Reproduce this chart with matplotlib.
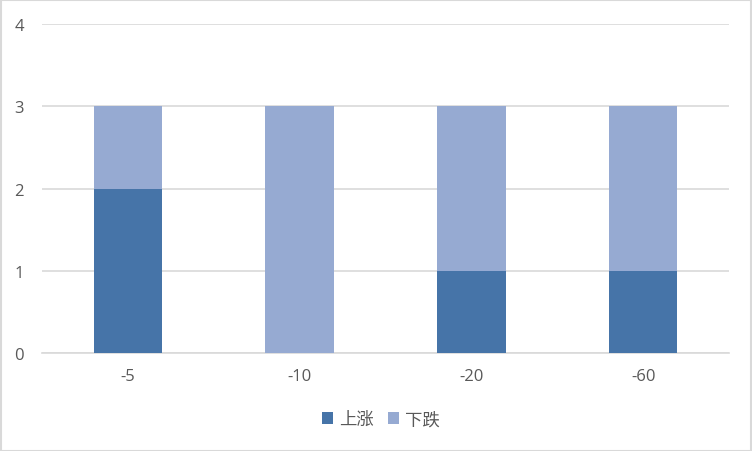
import matplotlib
matplotlib.use('Agg')
import matplotlib.pyplot as plt
import matplotlib.patches as patches
import numpy as np

plt.rcParams['font.family'] = ['Open Sans', 'Noto Sans CJK SC', 'DejaVu Sans']

categories = ['-5', '-10', '-20', '-60']
rise = [2, 0, 1, 1]
fall = [1, 3, 2, 2]
series_names = ['上涨', '下跌']

W, H = 752, 452
fig = plt.figure(figsize=(W / 100, H / 100), dpi=100)
ax = fig.add_axes([42 / W, (H - 354) / H, (729 - 42) / W, (354 - 25) / H])

x = np.arange(len(categories))
ax.bar(x, rise, width=0.4, color='#4674a8', label=series_names[0], zorder=3)
ax.bar(x, fall, width=0.4, bottom=rise, color='#96aad2', label=series_names[1], zorder=3)

ax.set_xlim(-0.5, len(categories) - 0.5)
ax.set_ylim(0, 4)
ax.set_yticks([0, 1, 2, 3, 4])
ax.set_xticks(x)
ax.set_xticklabels(categories)
ax.yaxis.grid(True, color='#d9d9d9', linewidth=1.2, zorder=0)
for s in ['top', 'right', 'left']:
    ax.spines[s].set_visible(False)
ax.spines['bottom'].set_color('#d9d9d9')
ax.spines['bottom'].set_linewidth(1.2)
ax.tick_params(axis='both', length=0, labelsize=12, colors='#595959')
ax.tick_params(axis='y', pad=13)
ax.tick_params(axis='x', pad=11)

leg = fig.legend(loc='center', bbox_to_anchor=(0.5 + 5 / W, 1 - 421 / H), ncol=2, frameon=False,
                 fontsize=12.5, handlelength=0.63, handleheight=0.63, handletextpad=0.35,
                 columnspacing=0.8)
for t in leg.get_texts():
    t.set_color('#595959')

fig.patches.append(patches.Rectangle((0.5 / W, 0.5 / H), 1 - 1.5 / W, 1 - 1.5 / H,
                                     transform=fig.transFigure, fill=False,
                                     edgecolor='#d9d9d9', linewidth=1.5))

fig.savefig('out.png', dpi=100)
